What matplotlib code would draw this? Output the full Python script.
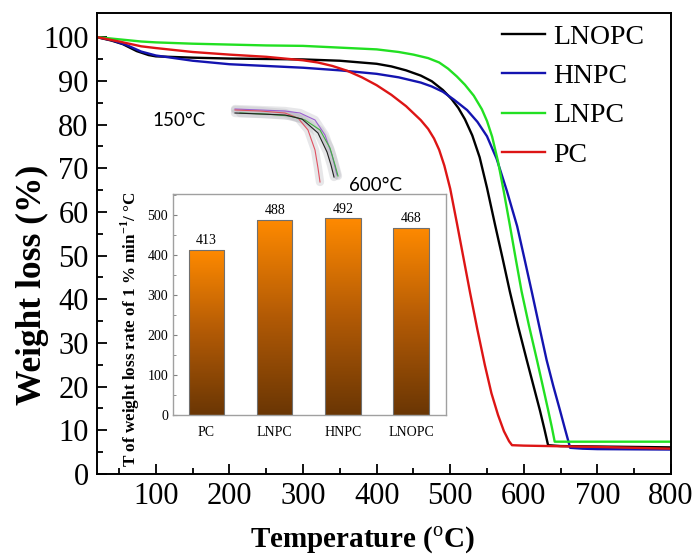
import numpy as np
import matplotlib
matplotlib.use("Agg")
import matplotlib.pyplot as plt
from matplotlib.colors import LinearSegmentedColormap

plt.rcParams['font.family'] = ['Liberation Serif', 'DejaVu Serif']
plt.rcParams['mathtext.fontset'] = 'custom'
plt.rcParams['mathtext.rm'] = 'Liberation Serif'
plt.rcParams['mathtext.bf'] = 'Liberation Serif:bold'

# ---- TGA curves (temperature in C, weight in %) ----
t_lnopc = [20, 40, 55, 74, 90, 100, 150, 200, 250, 300, 350, 400, 420, 440, 460, 475, 490, 502,
           511, 520, 530, 540, 550, 561, 571, 581, 592, 604, 613, 622, 628, 633, 650, 700, 750, 800]
w_lnopc = [100, 99.2, 98.4, 96.8, 95.9, 95.6, 95.3, 95.1, 95.0, 94.9, 94.6, 93.9, 93.3, 92.4, 91.2,
           89.9, 87.9, 85.8, 83.8, 81.2, 77.5, 72.5, 65.5, 57, 49.5, 41.8, 34, 26.1, 20.3, 14.5,
           10.3, 6.6, 6.4, 6.3, 6.2, 6.1]

t_hnpc = [20, 40, 60, 80, 100, 150, 200, 250, 300, 350, 400, 430, 460, 475, 490, 505, 523, 537,
          550, 563, 577, 591, 601, 611, 621, 631, 640, 649, 656, 663, 680, 700, 800]
w_hnpc = [100, 99.3, 98.2, 96.7, 95.8, 94.6, 93.8, 93.4, 93.0, 92.4, 91.6, 90.8, 89.6, 88.7, 87.5,
          85.7, 83.3, 80.6, 77.3, 72.2, 64.8, 56.7, 49.2, 41.6, 33.8, 26.1, 20.2, 14.7, 10.3, 6.0,
          5.8, 5.7, 5.6]

t_lnpc = [20, 50, 80, 100, 150, 200, 250, 300, 350, 400, 430, 450, 470, 485, 497, 509, 520, 532,
          543, 550, 557, 565, 573, 581, 589, 597, 607, 618, 626, 633, 638, 642, 660, 700, 800]
w_lnpc = [100, 99.5, 99.0, 98.8, 98.5, 98.3, 98.1, 98.0, 97.6, 97.2, 96.6, 96.0, 95.2, 94.2, 92.8,
          91, 89.1, 86.6, 83.5, 80.8, 77.2, 71.5, 64.5, 57, 49.3, 41.8, 34, 26, 20, 14.7, 10.8,
          7.4, 7.4, 7.4, 7.4]

t_pc = [20, 50, 80, 100, 150, 200, 250, 300, 320, 340, 360, 380, 400, 420, 440, 460, 470, 478,
        485, 492, 500, 509, 518, 527, 537, 547, 556, 565, 573, 580, 584, 600, 700, 800]
w_pc = [100, 99.0, 97.9, 97.5, 96.6, 96.0, 95.5, 94.7, 94.2, 93.4, 92.3, 90.8, 89.0, 86.8, 84.2,
        81, 79, 76.8, 74.2, 70.6, 65.3, 57.5, 49.5, 41.5, 33, 25, 18.5, 13.5, 9.8, 7.5, 6.6, 6.5,
        6.2, 5.8]

# ---- inset bar data ----
bar_names = ['PC', 'LNPC', 'HNPC', 'LNOPC']
bar_vals = [413, 488, 492, 468]

# ---- small decorative thumbnail (image px coords) ----
icon_purple = ([235, 260, 285, 300, 315, 325, 332, 337], [109, 110, 111, 113, 120, 135, 155, 175])
icon_red = ([235, 260, 285, 298, 308, 315, 318, 320], [110, 111, 113, 118, 130, 150, 168, 182])
icon_green = ([240, 265, 290, 305, 320, 330, 335, 338], [113, 114, 116, 120, 130, 148, 165, 176])
icon_black = ([235, 260, 285, 302, 318, 327, 331, 334], [113, 114, 115, 119, 133, 152, 165, 177])

fig = plt.figure(figsize=(6.94, 5.58), dpi=100)
ax = fig.add_axes([0.1398, 0.1505, 0.827, 0.826])

ax.plot(t_lnopc, w_lnopc, color='black', lw=1.7, label='LNOPC')
ax.plot(t_hnpc, w_hnpc, color='#1414b0', lw=1.7, label='HNPC')
ax.plot(t_lnpc, w_lnpc, color='#22e022', lw=1.7, label='LNPC')
ax.plot(t_pc, w_pc, color='#dd1515', lw=1.7, label='PC')

ax.set_xlim(20, 800)
ax.set_ylim(0, 105.5)
ax.set_xticks(range(100, 801, 100))
ax.set_xticks(range(50, 801, 100), minor=True)
ax.set_yticks(range(0, 101, 10))
ax.set_yticks(range(5, 101, 10), minor=True)
ax.tick_params(which='major', direction='in', length=7, width=1.3, labelsize=22,
               top=False, right=False, pad=6)
ax.tick_params(which='minor', direction='in', length=4, width=1.3, top=False, right=False)
for s in ax.spines.values():
    s.set_linewidth(1.4)
ax.set_xlabel(r'Temperature ($^{\rm o}$C)', fontsize=21, fontweight='bold')
ax.xaxis.set_label_coords(0.462, -0.11)
ax.set_ylabel('Weight loss (%)', fontsize=25.5, fontweight='bold')
ax.yaxis.set_label_coords(-0.084, 0.41)

leg = ax.legend(loc='upper left', bbox_to_anchor=(0.677, 1.012), frameon=False, fontsize=20,
                handlelength=1.55, handletextpad=0.3, labelspacing=0.5, borderaxespad=0.2)

# ---- inset bar chart ----
ins = fig.add_axes([0.2493, 0.2563, 0.3934, 0.396])
cmap = LinearSegmentedColormap.from_list('org', ['#6a3604', '#b25a06', '#ff8a00'])
x = np.arange(len(bar_names))
bars = ins.bar(x, bar_vals, width=0.52, color='none', edgecolor='#707070', lw=0.8, zorder=3)
grad = np.linspace(0, 1, 256).reshape(-1, 1)
for b in bars:
    im = ins.imshow(grad, cmap=cmap, origin='lower', aspect='auto',
                    extent=[b.get_x(), b.get_x() + b.get_width(), 0, b.get_height()], zorder=2)
    im.set_clip_path(b)
for xi, v in zip(x, bar_vals):
    ins.text(xi, v + 6, str(v), ha='center', va='bottom', fontsize=10)
ins.set_xlim(-0.49, 3.51)
ins.set_ylim(0, 552)
ins.set_xticks(x)
ins.set_xticklabels(bar_names)
ins.set_yticks(range(0, 501, 100))
ins.set_yticks(range(50, 551, 100), minor=True)
ins.tick_params(which='both', direction='in', labelsize=10, color='#808080')
ins.tick_params(which='major', length=3)
ins.tick_params(which='minor', length=2)
ins.tick_params(axis='x', length=0, pad=8)
for s in ins.spines.values():
    s.set_color('#a0a0a0')
    s.set_linewidth(1.0)

fig.text(0.188, 0.41, r'T of weight loss rate of 1 % min$^{\mathbf{-1}}$/ °C', rotation=90,
         ha='center', va='center', fontsize=12.3, fontweight='bold')

# ---- thumbnail sketch ----
ic = fig.add_axes([225 / 694, 1 - 190 / 558, 125 / 694, 90 / 558])
ic.set_xlim(225, 350)
ic.set_ylim(190, 100)
ic.axis('off')
for xs, ys in [icon_purple, icon_red, icon_green, icon_black]:
    ic.plot(xs, ys, color='#b0b0b8', lw=6, alpha=0.3, solid_capstyle='round')
for (xs, ys), c in zip([icon_purple, icon_red, icon_green, icon_black],
                       ['#9a5fd0', '#e05060', '#40b040', '#202020']):
    ic.plot(xs, ys, color=c, lw=0.8)

fig.text(152 / 694, 1 - 121 / 558, '150°C', family=['Lato', 'DejaVu Sans'], fontsize=13.5,
         ha='left', va='center')
fig.text(349 / 694, 1 - 186 / 558, '600°C', family=['Lato', 'DejaVu Sans'], fontsize=13.5,
         ha='left', va='center')

fig.savefig('out.png', dpi=100)
